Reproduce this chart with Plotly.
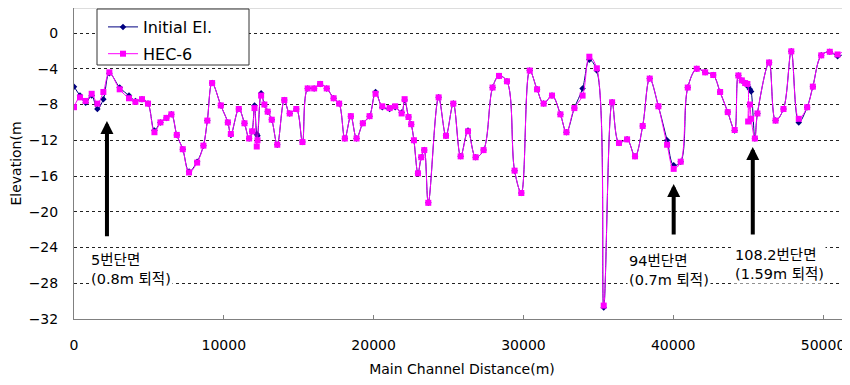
import plotly.graph_objects as go

distance = [0, 400, 780, 1180, 1560, 1960, 2360, 3050, 3670, 4100, 4540, 4940, 5370, 5770, 6170, 6500,
            6860, 7260, 7680, 8220, 8640, 8900, 9220, 9800, 10270, 10470, 11000, 11380, 11690, 11890,
            12050, 12200, 12250, 12490, 12710, 12930, 13200, 13570, 14040, 14400, 14840, 15250, 15600,
            16030, 16430, 16870, 17330, 17700, 18080, 18480, 18860, 19280, 19730, 20130, 20580, 21070,
            21440, 21870, 22070, 22330, 22510, 22690, 22960, 23180, 23380, 23650, 24340, 24830, 25320,
            25810, 26300, 26810, 27340, 27940, 28370, 28900, 29410, 29860, 30420, 30910, 31350, 31910,
            32470, 32870, 33400, 33950, 34400, 34900, 35360, 35920, 36380, 36920, 37450, 37960, 38430,
            39010, 39590, 40030, 40500, 40970, 41570, 42130, 42670, 43130, 43640, 44100, 44350, 44580,
            44800, 44950, 45000, 45120, 45200, 45450, 45620, 46400, 46830, 47360, 47880, 48380, 48940,
            49320, 49880, 50450, 50970, 51500, 51840]

initial_el = [-6.0, -7.0, -7.8, -7.0, -8.5, -7.4, -4.5, -6.1, -7.0, -7.6, -7.4, -7.9, -10.9, -10.0, -9.5, -9.1,
              -11.4, -13.0, -15.5, -14.4, -12.6, -9.8, -5.6, -8.1, -10.0, -11.4, -8.5, -10.1, -11.8, -11.0,
              -8.1, -11.3, -11.5, -6.75, -8.0, -8.8, -9.7, -12.5, -7.5, -9.0, -8.5, -12.2, -6.2,
              -6.2, -5.7, -6.2, -7.3, -7.9, -11.8, -9.3, -11.8, -10.1, -9.3, -6.6, -8.3, -8.5,
              -8.3, -8.9, -7.5, -9.4, -10.2, -12.0, -15.7, -13.9, -13.1, -19.0, -7.2, -11.5, -7.9,
              -13.8, -10.9, -13.9, -13.1, -6.1, -4.8, -5.4, -15.4, -17.9, -4.2, -6.3, -7.9, -7.0,
              -9.1, -11.1, -8.4, -6.2, -3.0, -4.2, -30.7, -7.75, -12.3, -11.9, -13.8, -10.4, -5.1,
              -8.2, -12.0, -14.8, -14.4, -6.1, -4.0, -4.4, -4.7, -6.6, -8.85, -10.9, -4.75, -5.3,
              -5.6, -5.8, -6.0, -6.3, -6.55, -11.8, -9.0, -3.3, -9.8, -8.5, -2.05, -10.0, -8.3,
              -6.0, -2.5, -2.1, -2.6, -2.2, -1.3]

hec6 = [-8.3, -7.2, -7.6, -6.8, -7.9, -6.6, -4.4, -6.3, -7.3, -7.7, -7.4, -7.9, -11.1, -10.0, -9.5, -9.1,
        -11.4, -13.0, -15.6, -14.5, -12.6, -9.8, -5.6, -8.1, -10.0, -11.3, -8.5, -10.1, -11.8, -11.0,
        -8.4, -12.7, -12.0, -7.0, -8.0, -8.8, -9.7, -12.5, -7.5, -9.0, -8.5, -12.2, -6.2,
        -6.2, -5.7, -6.2, -7.3, -7.9, -11.8, -9.3, -11.8, -10.1, -9.3, -6.8, -8.2, -8.4,
        -8.2, -9.0, -7.4, -9.4, -10.2, -12.0, -15.7, -13.9, -13.1, -19.0, -7.2, -11.5, -7.9,
        -13.8, -11.0, -13.9, -13.1, -6.1, -4.8, -5.4, -15.4, -17.9, -4.2, -6.3, -7.9, -7.0,
        -9.1, -11.1, -8.4, -7.0, -2.65, -3.95, -30.5, -7.75, -12.3, -11.9, -13.8, -10.4, -5.1,
        -8.2, -12.5, -15.2, -14.4, -6.1, -4.0, -4.4, -4.7, -6.6, -8.85, -10.85, -4.75, -5.3,
        -5.6, -5.7, -9.9, -8.0, -9.6, -11.8, -9.0, -3.3, -9.8, -8.5, -2.05, -9.6, -8.3,
        -6.0, -2.5, -2.1, -2.4, -1.8, -1.2]

x_ticks = [0, 10000, 20000, 30000, 40000, 50000]
y_ticks = [0, -4, -8, -12, -16, -20, -24, -28, -32]

labels = ["5번단면<br>(0.8m 퇴적)", "94번단면<br>(0.7m 퇴적)", "108.2번단면<br>(1.59m 퇴적)"]
label_x = [1000, 36900, 43990]
label_y = [-26.5, -26.6, -25.9]
arrow_x = [2200, 40030, 45310]
arrow_tip = [-9.85, -16.9, -12.75]
arrow_tail = [-22.9, -22.7, -22.7]

FONT = "DejaVu Sans, Noto Sans CJK KR, sans-serif"

# The page body adds an 8px offset, so the figure is laid out in figure pixels (screen - 8).
W, H = 842, 377
L, R, T, B = 66, 842, 0, 311
PW, PH = R - L, B - T

def px_x(p):
    return (p - L) / PW

def px_y(p):
    return (B - p) / PH

fig = go.Figure()
fig.add_trace(go.Scatter(
    x=distance, y=initial_el, name="Initial El.", mode="lines+markers", legendgroup="a",
    line=dict(color="#000080", width=1, shape="spline", smoothing=1.0),
    marker=dict(symbol="diamond", size=5, color="#000080"),
))
fig.add_trace(go.Scatter(
    x=distance, y=hec6, name="HEC-6", mode="lines+markers", legendgroup="b",
    line=dict(color="#FF00FF", width=1, shape="spline", smoothing=1.0),
    marker=dict(symbol="square", size=6, color="#FF00FF"),
))

annotations = []
for t, x, y in zip(labels, label_x, label_y):
    annotations.append(dict(x=x, y=y, xref="x", yref="y", text=t, showarrow=False,
                            xanchor="left", yanchor="middle", align="left",
                            bgcolor="white", borderpad=1,
                            font=dict(family=FONT, size=14.5, color="black")))
for x, tip, tail in zip(arrow_x, arrow_tip, arrow_tail):
    annotations.append(dict(x=x, y=tip, ax=x, ay=tail, xref="x", yref="y", axref="x", ayref="y",
                            text="", showarrow=True, arrowhead=2, arrowwidth=4, arrowsize=0.65,
                            arrowcolor="black"))

fig.update_layout(
    width=W, height=H,
    margin=dict(l=L, r=W - R, t=T, b=H - B, autoexpand=False),
    paper_bgcolor="white", plot_bgcolor="white",
    font=dict(family=FONT, size=14, color="black"),
    showlegend=True,
    legend=dict(x=px_x(95), y=px_y(2), xanchor="left", yanchor="top",
                bgcolor="rgba(0,0,0,0)", borderwidth=0,
                font=dict(family=FONT, size=16, color="black"),
                tracegroupgap=3, itemwidth=30),
    annotations=annotations,
    shapes=[
        dict(type="line", xref="paper", yref="paper", x0=0, x1=1, y0=1, y1=1,
             line=dict(color="#bbbbbb", width=1)),
        dict(type="rect", xref="paper", yref="paper", x0=px_x(89), x1=px_x(241),
             y0=px_y(57), y1=px_y(1), fillcolor="white", line=dict(color="#333333", width=1),
             layer="above"),
    ],
)
fig.update_xaxes(
    range=[0, 51800], tickvals=x_ticks, ticktext=[str(v) for v in x_ticks],
    showgrid=False, zeroline=False, showline=True, linecolor="#808080", linewidth=1,
    ticks="inside", ticklen=4, tickcolor="#808080", ticklabelstandoff=13, automargin=False,
    tickfont=dict(size=14),
    title=dict(text="Main Channel Distance(m)", font=dict(family=FONT, size=14), standoff=12),
)
fig.update_yaxes(
    range=[-32, 2.8], tickvals=y_ticks, ticktext=[str(v).replace("-", "−") for v in y_ticks],
    showgrid=True, gridcolor="#222222", griddash="dot", gridwidth=1,
    zeroline=False, showline=True, linecolor="#808080", linewidth=1,
    ticks="", ticklabelstandoff=12, automargin=False, tickfont=dict(size=14),
    title=dict(text="Elevation(m", font=dict(family=FONT, size=14), standoff=11),
)

fig.write_html("out.html")
